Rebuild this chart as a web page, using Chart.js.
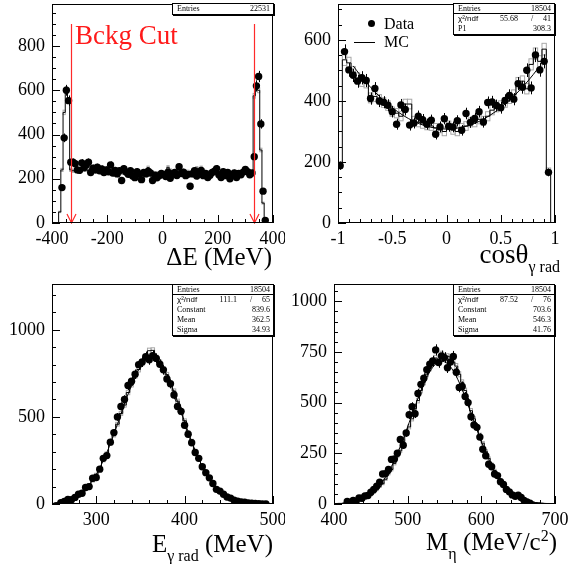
<!DOCTYPE html>
<html>
<head>
<meta charset="utf-8">
<script src="https://cdn.jsdelivr.net/npm/chart.js@4/dist/chart.umd.min.js"></script>
<style>
    body { margin: 0; background: #fff; }
    #page { position: relative; width: 569px; height: 564px; overflow: hidden; background: #fff; font-family: 'Liberation Serif', serif; color: #000; }
    canvas { position: absolute; }
    .title { position: absolute; font-size: 25px; line-height: 25px; white-space: nowrap; }
    .title .sub { font-size: 16px; position: relative; top: 9px; }
    .title .sup { font-size: 16px; position: relative; top: -9px; }
    .stats { position: absolute; width: 100px; background: #fff; border: 1px solid #000; box-shadow: 1px 1px 0 #000; font-size: 8px; }
    .stats .row { position: relative; height: 10px; line-height: 10px; }
    .stats .first { border-bottom: 1px solid #000; height: 9px; line-height: 9px; }
    .stats .l { position: absolute; left: 4px; }
    .stats .r { position: absolute; right: 3px; }
    .stats .m { position: absolute; right: 36%; }
    .stats .s { position: absolute; left: 77%; }
    .stats .chi { font-family: 'Liberation Sans', sans-serif; }
    .legend { position: absolute; font-size: 16px; line-height: 16px; white-space: nowrap; }
    .cut { position: absolute; left: 75px; top: 22px; color: #ff1a1a; font-size: 27px; line-height: 27px; white-space: nowrap; }
</style>
</head>
<body>
<div id="page">
    <canvas id="c-de" width="285" height="280" style="left:0;top:0"></canvas>
    <canvas id="c-cos" width="284" height="280" style="left:285px;top:0"></canvas>
    <canvas id="c-eg" width="285" height="284" style="left:0;top:280px"></canvas>
    <canvas id="c-meta" width="284" height="284" style="left:285px;top:280px"></canvas>

    <div class="cut">Bckg Cut</div>

    <div class="stats" style="left:172px;top:3px">
        <div class="row"><span class="l">Entries</span><span class="r">22531</span></div>
    </div>
    <div class="stats" style="left:453px;top:3px">
        <div class="row first"><span class="l">Entries</span><span class="r">18504</span></div>
        <div class="row"><span class="l chi">χ²/ndf</span><span class="m">55.68</span><span class="s">/</span><span class="r">41</span></div>
        <div class="row"><span class="l">P1</span><span class="r">308.3</span></div>
    </div>
    <div class="stats" style="left:172px;top:284px">
        <div class="row first"><span class="l">Entries</span><span class="r">18504</span></div>
        <div class="row"><span class="l chi">χ²/ndf</span><span class="m">111.1</span><span class="s">/</span><span class="r">65</span></div>
        <div class="row"><span class="l">Constant</span><span class="r">839.6</span></div>
        <div class="row"><span class="l">Mean</span><span class="r">362.5</span></div>
        <div class="row"><span class="l">Sigma</span><span class="r">34.93</span></div>
    </div>
    <div class="stats" style="left:453px;top:284px">
        <div class="row first"><span class="l">Entries</span><span class="r">18504</span></div>
        <div class="row"><span class="l chi">χ²/ndf</span><span class="m">87.52</span><span class="s">/</span><span class="r">76</span></div>
        <div class="row"><span class="l">Constant</span><span class="r">703.6</span></div>
        <div class="row"><span class="l">Mean</span><span class="r">546.3</span></div>
        <div class="row"><span class="l">Sigma</span><span class="r">41.76</span></div>
    </div>

    <div class="legend" style="left:368px;top:20px;width:7px;height:7px;border-radius:50%;background:#000"></div>
    <div class="legend" style="left:384px;top:16px">Data</div>
    <div class="legend" style="left:354px;top:42px;width:21px;height:1px;background:#000"></div>
    <div class="legend" style="left:384px;top:34px">MC</div>

    <div class="title" style="right:297px;top:244px">ΔE (MeV)</div>
    <div class="title" style="right:9px;top:242px;font-size:27px">cosθ<span class="sub">γ rad</span></div>
    <div class="title" style="right:296px;top:531px">E<span class="sub">γ rad</span> (MeV)</div>
    <div class="title" style="right:12px;top:529px">M<span class="sub">η</span> (MeV/c<span class="sup">2</span>)</div>
</div>
<script>
// ---- ΔE : 100 bins of 8 MeV from -400 ----
const deLow = -400, deWidth = 8;
const deXTicks = [-400, -200, 0, 200, 400];
const deYTicks = [0, 200, 400, 600, 800];
const deData = [
    null, null, null, null, 160, 385, 600, 553, 275,
    275, 268, 240, 238, 272, 250, 262, 275, 228, 248,
    240, 252, 236, 244, 228, 240, 232, 262, 226, 238,
    222, 236, 192, 245, 230, 220, 236, 212, 205, 232,
    220, 196, 228, 222, 234, 226, 192, 216, 204, 214,
    224, 218, 210, 230, 202, 220, 228, 215, 254, 224,
    230, 214, 220, 166, 222, 236, 212, 220, 238, 214,
    224, 206, 216, 228, 234, 246, 218, 206, 232, 214,
    228, 200, 218, 226, 206, 224, 218, 230, 242, 232,
    218, 226,
    300, 620, 662, 448, 144, 12,
    null, null, null
];
const deMC = [
    0, 0, 0, 50, 240, 500, 605, 555, 240,
    236, 238, 242, 240, 244, 246, 240, 238, 236, 242,
    240, 236, 232, 236, 238, 234, 230, 236, 232, 228,
    234, 238, 226, 232, 230, 226, 228, 224, 230, 226,
    222, 228, 226, 232, 250, 236, 228, 224, 226, 222,
    230, 226, 224, 252, 238, 230, 226, 232, 236, 230,
    224, 228, 232, 230, 226, 234, 248, 236, 250, 232,
    228, 230, 226, 232, 234, 230, 226, 224, 228, 230,
    226, 222, 226, 230, 228, 224, 226, 230, 232, 228,
    224, 230,
    575, 605, 600, 330, 90, 10,
    0, 0, 0
];
const deCuts = [-330, 330];

// ---- cos(theta) : 50 bins of 0.04 from -1 ----
const cosLow = -1, cosWidth = 0.04;
const cosXTicks = [-1, -0.5, 0, 0.5, 1];
const cosYTicks = [0, 200, 400, 600];
const cosData = [
    188, 562, 502, 484, 465, 476, 467, 408, 441, 400,
    396, 386, 365, 324, 387, 372, 321, 328, 350, 339,
    324, 337, 291, 315, 342, 317, 315, 335, 304, 359,
    330, 343, 365, 331, 395, 397, 385, 378, 402, 418,
    406, 457, 445, 501, 443, 551, 502, 530, 166, null
];
const cosMC = [
    190, 535, 525, 495, 475, 465, 460, 410, 415, 405,
    395, 385, 365, 360, 350, 390, 390, 335, 330, 325,
    320, 318, 312, 310, 300, 320, 305, 300, 312, 318,
    330, 330, 340, 335, 350, 370, 380, 385, 395, 408,
    420, 460, 465, 440, 520, 555, 530, 570, 170, 0
];
const cosFitX = [-0.86, -0.8, -0.7, -0.6, -0.5, -0.4, -0.3, -0.2, -0.1, 0, 0.1, 0.2, 0.3, 0.4, 0.5, 0.6, 0.7, 0.8, 0.86];
const cosFitY = [515, 487, 445, 409, 378, 353, 333, 319, 311, 308, 311, 319, 333, 353, 378, 409, 445, 487, 515];

// ---- E gamma rad : 62 bins of 4 MeV from 250 ----
const egLow = 250, egWidth = 4;
const egXTicks = [300, 400, 500];
const egYTicks = [0, 500, 1000];
const egData = [
    null, null, 8, 14, 26, 24, 38, 56, 62, 95,
    100, 148, 152, 200, 262, 278, 355, 410, 500, 560,
    600, 680, 705, 745, 800, 815, 846, 828, 852, 836,
    802, 770, 718, 690, 626, 560, 532, 452, 400, 352,
    296, 262, 214, 180, 150, 118, 84, 74, 56, 40,
    34, 22, 16, 12, 10, 6, 4, 3, 2, 1,
    1, null
];
const egMC = [
    3, 6, 10, 14, 20, 28, 40, 50, 68, 84,
    112, 132, 170, 205, 250, 290, 352, 395, 458, 520,
    568, 640, 685, 735, 772, 808, 838, 880, 882, 840,
    812, 775, 742, 690, 648, 590, 525, 478, 410, 362,
    305, 262, 215, 180, 142, 118, 90, 72, 56, 42,
    30, 24, 16, 12, 9, 7, 5, 3, 2, 2,
    1, 1
];
const egFit = [
    6, 8, 11, 16, 22, 29, 39, 52, 67, 86,
    110, 137, 169, 207, 249, 295, 346, 401, 457, 516,
    574, 630, 682, 730, 770, 803, 825, 838, 839, 829,
    809, 779, 741, 695, 643, 588, 530, 472, 415, 359,
    308, 260, 217, 178, 145, 116, 92, 72, 55, 42,
    32, 23, 17, 12, 9, 6, 4, 3, 2, 1,
    1, 1
];

// ---- M eta : 75 bins of 4 MeV from 400 ----
const metaLow = 400, metaWidth = 4;
const metaXTicks = [400, 500, 600, 700];
const metaYTicks = [0, 250, 500, 750, 1000];
const metaData = [
    null, null, null, null, 12, 8, 18, 14, 30, 28,
    40, 42, 58, 72, 88, 108, 148, 150, 170, 220,
    222, 250, 318, 290, 350, 440, 480, 445, 545, 590,
    620, 662, 690, 705, 760, 698, 730, 722, 672, 700,
    728, 650, 575, 580, 530, 500, 430, 390, 378, 330,
    270, 238, 196, 184, 148, 140, 110, 96, 72, 60,
    45, 38, 44, 32, 18, 10, 4, null, null, null,
    null, null, null, null, null
];
const metaMC = [
    0, 0, 2, 4, 6, 8, 10, 14, 18, 22,
    28, 36, 44, 56, 70, 86, 100, 122, 150, 170,
    200, 236, 262, 308, 350, 380, 420, 470, 510, 560,
    600, 640, 670, 700, 720, 705, 740, 730, 728, 725,
    700, 680, 640, 600, 560, 505, 460, 420, 380, 340,
    300, 260, 225, 195, 165, 140, 118, 98, 80, 66,
    54, 44, 36, 28, 22, 16, 12, 9, 6, 5,
    3, 2, 2, 1, 0
];
const metaFit = [
    2, 3, 3, 5, 6, 8, 11, 15, 19, 24,
    31, 39, 49, 61, 75, 92, 111, 133, 157, 185,
    215, 248, 284, 321, 361, 401, 442, 482, 522, 559,
    594, 625, 652, 674, 690, 700, 704, 701, 692, 677,
    656, 630, 599, 565, 528, 488, 448, 407, 366, 327,
    289, 253, 220, 189, 161, 136, 114, 94, 78, 63,
    51, 41, 32, 25, 20, 15, 12, 9, 7, 5,
    4, 3, 2, 1, 1
];

Chart.defaults.font.family = "'Liberation Serif', serif";
Chart.defaults.color = '#000';

// outline of a histogram, built as stepped line points on bin edges
function stepPoints(low, width, values) {
    const pts = [{ x: low, y: 0 }];
    values.forEach((v, i) => pts.push({ x: low + i * width, y: v }));
    const end = low + values.length * width;
    pts.push({ x: end, y: values[values.length - 1] });
    pts.push({ x: end, y: 0 });
    return pts;
}

function centerPoints(low, width, values) {
    const pts = [];
    values.forEach((v, i) => {
        if (v !== null) pts.push({ x: low + (i + 0.5) * width, y: v });
    });
    return pts;
}

// ROOT-like frame, inner ticks, error bars, MC error boxes and cut lines
const rootStyle = {
    id: 'rootStyle',
    beforeDatasetsDraw(chart, args, opts) {
        if (!opts.mc) return;
        const { ctx, chartArea: a, scales: { x, y } } = chart;
        ctx.save();
        ctx.beginPath();
        ctx.rect(a.left, a.top, a.width, a.height);
        ctx.clip();
        ctx.strokeStyle = '#a8a8a8';
        ctx.lineWidth = 1;
        opts.mc.values.forEach((v, i) => {
            if (!v) return;
            const e = Math.sqrt(v) * opts.mcErr;
            const x0 = x.getPixelForValue(opts.mc.low + i * opts.mc.width);
            const x1 = x.getPixelForValue(opts.mc.low + (i + 1) * opts.mc.width);
            const y0 = y.getPixelForValue(v + e);
            const y1 = y.getPixelForValue(v - e);
            ctx.strokeRect(x0, y0, x1 - x0, y1 - y0);
        });
        ctx.restore();
    },
    afterDatasetsDraw(chart, args, opts) {
        const { ctx, chartArea: a, scales: { x, y } } = chart;
        ctx.save();
        ctx.beginPath();
        ctx.rect(a.left, a.top, a.width, a.height);
        ctx.clip();
        ctx.strokeStyle = '#000';
        ctx.lineWidth = 1;
        ctx.beginPath();
        chart.data.datasets.forEach(ds => {
            if (!ds.errorBars) return;
            ds.data.forEach(p => {
                const e = Math.sqrt(p.y);
                const px = Math.round(x.getPixelForValue(p.x)) + 0.5;
                ctx.moveTo(px, y.getPixelForValue(p.y + e));
                ctx.lineTo(px, y.getPixelForValue(p.y - e));
            });
        });
        ctx.stroke();
        ctx.restore();

        if (opts.cuts) {
            ctx.save();
            ctx.strokeStyle = '#ff2a2a';
            ctx.lineWidth = 1.2;
            opts.cuts.forEach(c => {
                const px = Math.round(x.getPixelForValue(c)) + 0.5;
                const top = y.getPixelForValue(opts.cutTop);
                const bot = y.getPixelForValue(0);
                ctx.beginPath();
                ctx.moveTo(px, top);
                ctx.lineTo(px, bot);
                ctx.moveTo(px - 4.5, bot - 9);
                ctx.lineTo(px, bot);
                ctx.lineTo(px + 4.5, bot - 9);
                ctx.stroke();
            });
            ctx.restore();
        }
    },
    afterDraw(chart, args, opts) {
        const { ctx, chartArea: a, scales: { x, y } } = chart;
        ctx.save();
        ctx.strokeStyle = '#000';
        ctx.lineWidth = 1;
        ctx.strokeRect(a.left + 0.5, a.top + 0.5, a.width - 1, a.height - 1);
        ctx.beginPath();
        const xs = Math.ceil(x.min / opts.xMinor - 1e-6);
        for (let k = xs; k * opts.xMinor <= x.max + 1e-6; k++) {
            const v = k * opts.xMinor;
            const r = v / opts.xMajor;
            const major = Math.abs(r - Math.round(r)) < 1e-6;
            const px = Math.round(x.getPixelForValue(v)) + 0.5;
            ctx.moveTo(px, a.bottom);
            ctx.lineTo(px, a.bottom - (major ? 8 : 4));
        }
        const ys = Math.ceil(y.min / opts.yMinor - 1e-6);
        for (let k = ys; k * opts.yMinor <= y.max + 1e-6; k++) {
            const v = k * opts.yMinor;
            const r = v / opts.yMajor;
            const major = Math.abs(r - Math.round(r)) < 1e-6;
            const py = Math.round(y.getPixelForValue(v)) + 0.5;
            ctx.moveTo(a.left, py);
            ctx.lineTo(a.left + (major ? 8 : 4), py);
        }
        ctx.stroke();
        ctx.restore();
    }
};

function makePanel(id, p) {
    const datasets = [
        {
            type: 'scatter',
            data: centerPoints(p.low, p.width, p.data),
            errorBars: true,
            pointRadius: 3.7,
            pointBackgroundColor: '#000',
            pointBorderWidth: 0
        },
        {
            type: 'line',
            data: stepPoints(p.low, p.width, p.mc),
            stepped: true,
            borderColor: '#000',
            borderWidth: 1,
            pointRadius: 0,
            fill: false
        }
    ];
    if (p.fit) {
        datasets.push({
            type: 'line',
            data: p.fit,
            borderColor: '#000',
            borderWidth: 1,
            pointRadius: 0,
            cubicInterpolationMode: 'monotone',
            fill: false
        });
    }
    const tickFont = { family: "'Liberation Serif', serif", size: 18 };
    return new Chart(document.getElementById(id), {
        type: 'scatter',
        data: { datasets },
        options: {
            responsive: false,
            animation: false,
            devicePixelRatio: 1,
            layout: { padding: { top: p.padTop, right: p.padRight, left: 0, bottom: 0 } },
            plugins: {
                legend: { display: false },
                tooltip: { enabled: false },
                rootStyle: {
                    xMajor: p.xMajor, xMinor: p.xMinor,
                    yMajor: p.yMajor, yMinor: p.yMinor,
                    mc: { low: p.low, width: p.width, values: p.mc },
                    mcErr: p.mcErr,
                    cuts: p.cuts, cutTop: p.cutTop
                }
            },
            scales: {
                x: {
                    type: 'linear', min: p.xMin, max: p.xMax,
                    grid: { display: false, drawTicks: false },
                    border: { display: false },
                    afterBuildTicks: s => { s.ticks = p.xTicks.map(v => ({ value: v })); },
                    ticks: {
                        autoSkip: false, maxRotation: 0,
                        padding: 5, color: '#000', font: tickFont,
                        callback: v => String(v)
                    },
                    afterFit: s => { s.height = p.xHeight; s.paddingLeft = 0; s.paddingRight = 0; }
                },
                y: {
                    type: 'linear', min: 0, max: p.yMax,
                    grid: { display: false, drawTicks: false },
                    border: { display: false },
                    afterBuildTicks: s => { s.ticks = p.yTicks.map(v => ({ value: v })); },
                    ticks: {
                        autoSkip: false,
                        padding: 7, color: '#000', font: tickFont,
                        callback: v => String(v)
                    },
                    afterFit: s => { s.width = p.yWidth; s.paddingTop = 0; s.paddingBottom = 0; }
                }
            }
        },
        plugins: [rootStyle]
    });
}

makePanel('c-de', {
    low: deLow, width: deWidth, data: deData, mc: deMC, mcErr: 0.45,
    xMin: -400, xMax: 400, xTicks: deXTicks, xMajor: 200, xMinor: 50,
    yMax: 990, yTicks: deYTicks, yMajor: 200, yMinor: 50,
    cuts: deCuts, cutTop: 900,
    padTop: 3, padRight: 12, xHeight: 57, yWidth: 52
});

makePanel('c-cos', {
    low: cosLow, width: cosWidth, data: cosData, mc: cosMC, mcErr: 0.8,
    fit: cosFitX.map((x, i) => ({ x, y: cosFitY[i] })),
    xMin: -1, xMax: 1, xTicks: cosXTicks, xMajor: 0.5, xMinor: 0.1,
    yMax: 718, yTicks: cosYTicks, yMajor: 200, yMinor: 50,
    padTop: 3, padRight: 14, xHeight: 57, yWidth: 53
});

makePanel('c-eg', {
    low: egLow, width: egWidth, data: egData, mc: egMC, mcErr: 0.5,
    fit: centerPoints(egLow, egWidth, egFit),
    xMin: 250, xMax: 500, xTicks: egXTicks, xMajor: 100, xMinor: 20,
    yMax: 1263, yTicks: egYTicks, yMajor: 500, yMinor: 100,
    padTop: 4, padRight: 12, xHeight: 60, yWidth: 52
});

makePanel('c-meta', {
    low: metaLow, width: metaWidth, data: metaData, mc: metaMC, mcErr: 0.5,
    fit: centerPoints(metaLow, metaWidth, metaFit),
    xMin: 400, xMax: 700, xTicks: metaXTicks, xMajor: 100, xMinor: 20,
    yMax: 1085, yTicks: metaYTicks, yMajor: 250, yMinor: 50,
    padTop: 4, padRight: 14, xHeight: 60, yWidth: 49
});
</script>
</body>
</html>
